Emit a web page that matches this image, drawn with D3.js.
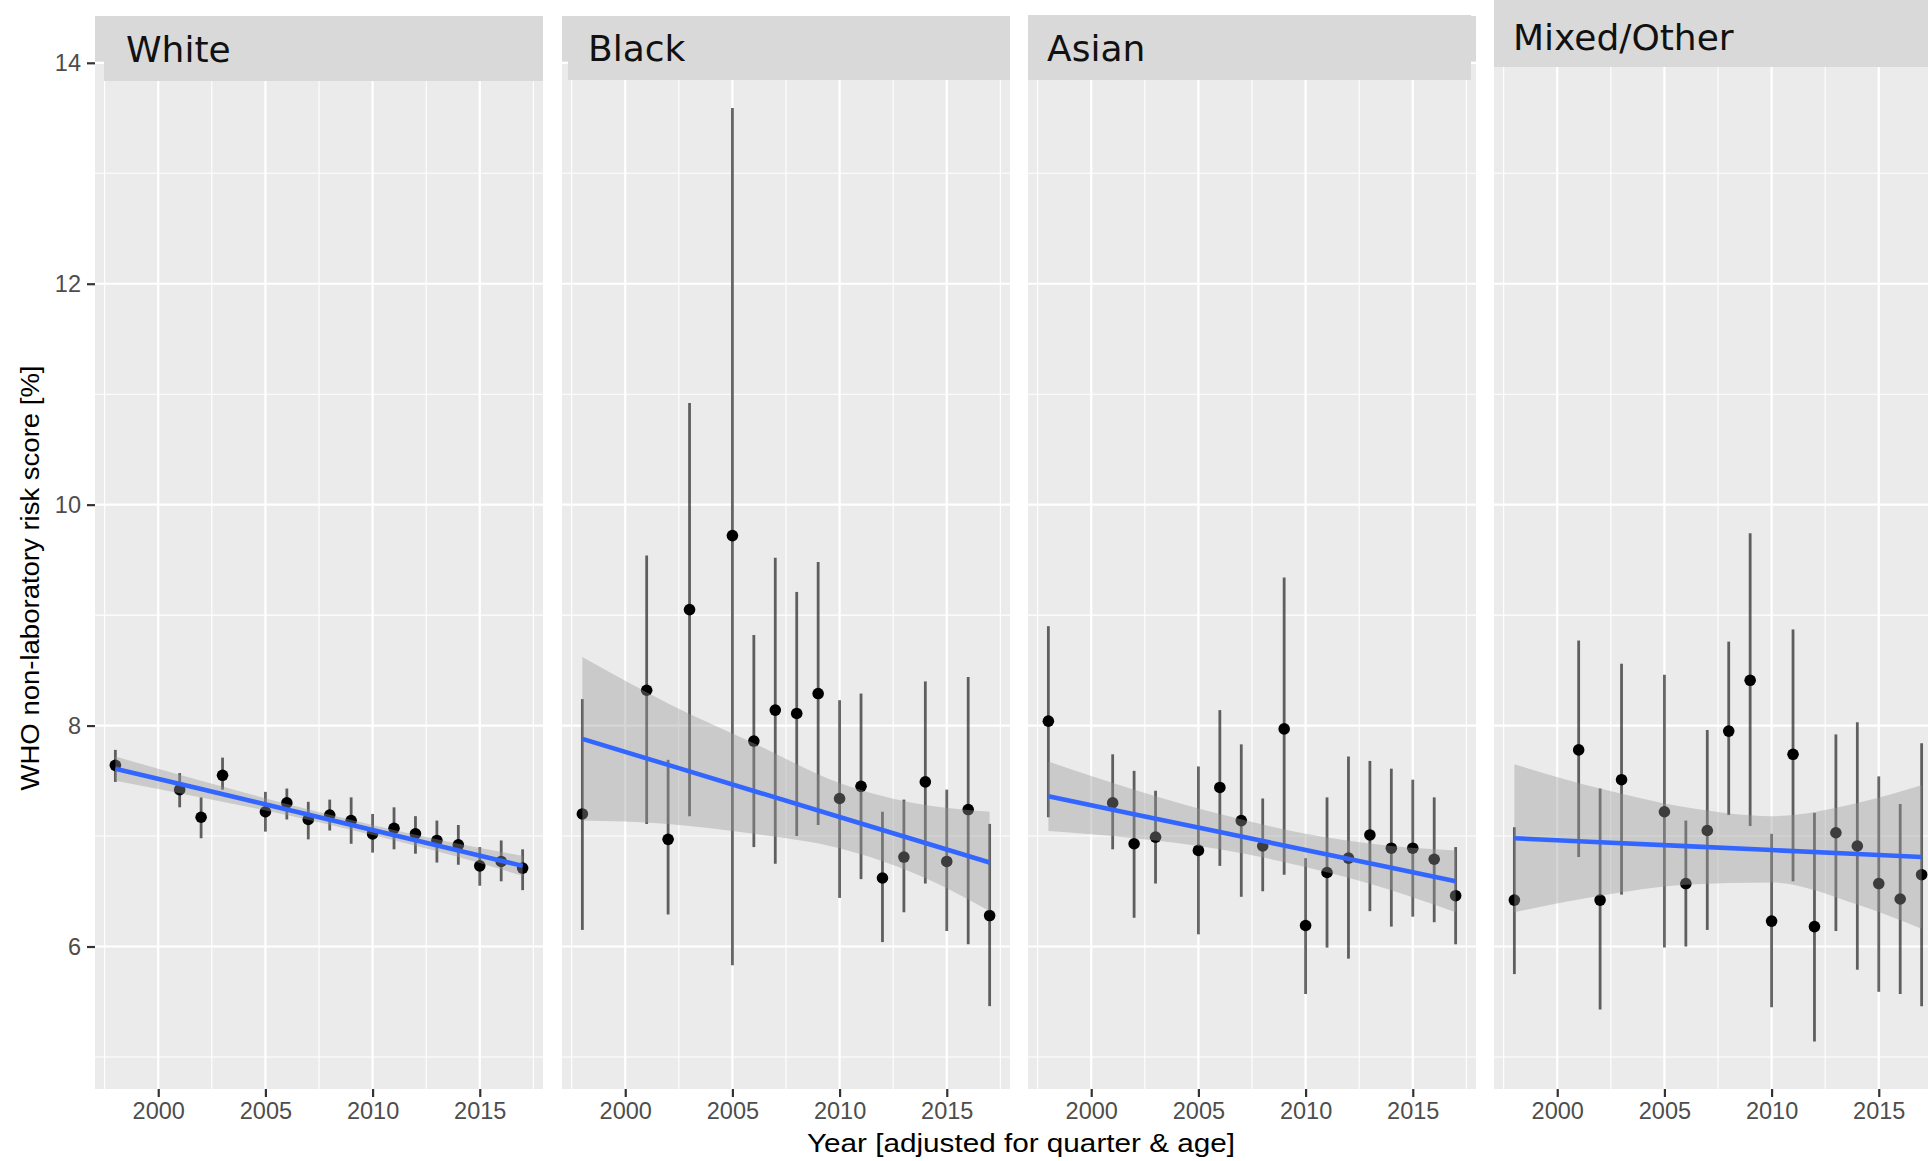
<!DOCTYPE html>
<html>
<head>
<meta charset="utf-8">
<script src="https://cdn.jsdelivr.net/npm/d3@7"></script>
<style>
	body { margin: 0; background: #fff; }
	svg { display: block; }
</style>
</head>
<body>
<div id="chart"></div>
<script>
// years present in every facet (1999, 2000 and 2004 are missing)
const years = [1998, 2001, 2002, 2003, 2005, 2006, 2007, 2008, 2009, 2010, 2011, 2012, 2013, 2014, 2015, 2016, 2017];
const groups = ["White", "Black", "Asian", "Mixed/Other"];

const whiteMean = [7.64, 7.42, 7.17, 7.55, 7.22, 7.30, 7.15, 7.19, 7.14, 7.02, 7.07, 7.02, 6.96, 6.92, 6.73, 6.77, 6.71];
const whiteLow = [7.49, 7.26, 6.98, 7.42, 7.04, 7.15, 6.97, 7.05, 6.93, 6.85, 6.88, 6.84, 6.76, 6.74, 6.55, 6.59, 6.51];
const whiteHigh = [7.78, 7.57, 7.35, 7.71, 7.40, 7.43, 7.31, 7.33, 7.35, 7.20, 7.26, 7.18, 7.14, 7.10, 6.90, 6.96, 6.88];

const blackMean = [7.20, 8.32, 6.97, 9.05, 9.72, 7.86, 8.14, 8.11, 8.29, 7.34, 7.45, 6.62, 6.81, 7.49, 6.77, 7.24, 6.28];
const blackLow = [6.15, 7.11, 6.29, 7.18, 5.83, 6.90, 6.75, 7.00, 7.10, 6.44, 6.61, 6.04, 6.31, 6.57, 6.14, 6.02, 5.46];
const blackHigh = [8.24, 9.54, 7.69, 10.92, 13.59, 8.82, 9.52, 9.21, 9.48, 8.23, 8.29, 7.22, 7.33, 8.40, 7.42, 8.44, 7.11];

const asianMean = [8.04, 7.30, 6.93, 6.99, 6.87, 7.44, 7.14, 6.91, 7.97, 6.19, 6.67, 6.80, 7.01, 6.89, 6.89, 6.79, 6.46];
const asianLow = [7.17, 6.88, 6.26, 6.57, 6.11, 6.73, 6.45, 6.50, 6.65, 5.57, 5.99, 5.89, 6.32, 6.18, 6.27, 6.22, 6.02];
const asianHigh = [8.90, 7.74, 7.59, 7.41, 7.63, 8.14, 7.83, 7.34, 9.34, 6.80, 7.35, 7.72, 7.68, 7.61, 7.51, 7.35, 6.90];

const mixedMean = [6.42, 7.78, 6.42, 7.51, 7.22, 6.57, 7.05, 7.95, 8.41, 6.23, 7.74, 6.18, 7.03, 6.91, 6.57, 6.43, 6.65];
const mixedLow = [5.75, 6.81, 5.43, 6.47, 5.99, 6.00, 6.15, 7.19, 7.09, 5.45, 6.59, 5.14, 6.14, 5.79, 5.59, 5.57, 5.46];
const mixedHigh = [7.08, 8.77, 7.43, 8.56, 8.46, 7.14, 7.96, 8.76, 9.74, 7.02, 8.87, 7.21, 7.92, 8.03, 7.54, 7.29, 7.84];

// linear fit and its confidence band, read at a few years
const fitYears = [1998, 2002, 2006, 2010, 2014, 2017];
const whiteFit = [7.61, 7.425, 7.24, 7.055, 6.87, 6.73];
const whiteFitLow = [7.50, 7.35, 7.19, 7.01, 6.81, 6.64];
const whiteFitHigh = [7.72, 7.50, 7.29, 7.10, 6.93, 6.82];
const blackFit = [7.88, 7.644, 7.408, 7.173, 6.937, 6.76];
const blackFitLow = [7.14, 7.11, 7.02, 6.89, 6.62, 6.32];
const blackFitHigh = [8.62, 8.20, 7.84, 7.48, 7.28, 7.22];
const asianFit = [7.36, 7.198, 7.036, 6.874, 6.712, 6.59];
const asianFitLow = [7.045, 6.98, 6.88, 6.72, 6.51, 6.31];
const asianFitHigh = [7.675, 7.42, 7.20, 7.02, 6.91, 6.87];
const mixedFit = [6.98, 6.944, 6.909, 6.873, 6.838, 6.81];
const mixedFitLow = [6.31, 6.46, 6.56, 6.58, 6.38, 6.16];
const mixedFitHigh = [7.65, 7.43, 7.26, 7.18, 7.30, 7.46];

const yTicks = [6, 8, 10, 12, 14];
const yMinor = [5, 7, 9, 11, 13];
const xTicks = [2000, 2005, 2010, 2015];
const xMinor = [1997.5, 2002.5, 2007.5, 2012.5, 2017.5];

const facets = [
	{ mean: whiteMean, low: whiteLow, high: whiteHigh, fit: whiteFit, fitLow: whiteFitLow, fitHigh: whiteFitHigh },
	{ mean: blackMean, low: blackLow, high: blackHigh, fit: blackFit, fitLow: blackFitLow, fitHigh: blackFitHigh },
	{ mean: asianMean, low: asianLow, high: asianHigh, fit: asianFit, fitLow: asianFitLow, fitHigh: asianFitHigh },
	{ mean: mixedMean, low: mixedLow, high: mixedHigh, fit: mixedFit, fitLow: mixedFitLow, fitHigh: mixedFitHigh },
];

// layout (the strips were pasted by hand in the original, so they are a bit off)
const width = 1928;
const height = 1161;
const panelLeft = [95, 562, 1028, 1494];
const panelW = 448;
const panelTop = 61.7;
const panelBottom = 1089;
const labelBoxes = [
	{ x0: 104, x1: 543, y0: 16, y1: 81, tx: 126, ty: 62 },
	{ x0: 568, x1: 1010, y0: 16, y1: 80, tx: 588, ty: 61 },
	{ x0: 1028, x1: 1471, y0: 15, y1: 80, tx: 1047, ty: 61 },
	{ x0: 1494, x1: 1928, y0: 0, y1: 67, tx: 1513, ty: 50 },
];

const svg = d3
	.select("#chart")
	.append("svg")
	.attr("width", width)
	.attr("height", height);

const y = d3.scaleLinear().domain([4.71, 14.01]).range([panelBottom, panelTop]);

svg
	.append("defs")
	.selectAll("clipPath")
	.data(groups)
	.enter()
	.append("clipPath")
	.attr("id", (d, i) => "clip" + i)
	.append("rect")
	.attr("x", (d, i) => panelLeft[i])
	.attr("y", panelTop)
	.attr("width", panelW)
	.attr("height", panelBottom - panelTop);

groups.forEach((name, i) => {
	const f = facets[i];
	const x = d3
		.scaleLinear()
		.domain([1997.05, 2017.95])
		.range([panelLeft[i], panelLeft[i] + panelW]);

	const g = svg.append("g");
	// ggplot strip sits above the panel
	g.append("rect")
		.attr("x", panelLeft[i])
		.attr("y", 16)
		.attr("width", panelW)
		.attr("height", panelTop - 16)
		.attr("fill", "#d9d9d9");

	const p = g.append("g").attr("clip-path", `url(#clip${i})`);
	p.append("rect")
		.attr("x", panelLeft[i])
		.attr("y", panelTop)
		.attr("width", panelW)
		.attr("height", panelBottom - panelTop)
		.attr("fill", "#ebebeb");

	// grid
	p.selectAll(".ymin")
		.data(yMinor)
		.enter()
		.append("line")
		.attr("x1", panelLeft[i])
		.attr("x2", panelLeft[i] + panelW)
		.attr("y1", (d) => y(d))
		.attr("y2", (d) => y(d))
		.attr("stroke", "#fff")
		.attr("stroke-width", 1.1);
	p.selectAll(".xmin")
		.data(xMinor)
		.enter()
		.append("line")
		.attr("x1", (d) => x(d))
		.attr("x2", (d) => x(d))
		.attr("y1", panelTop)
		.attr("y2", panelBottom)
		.attr("stroke", "#fff")
		.attr("stroke-width", 1.1);
	p.selectAll(".ymaj")
		.data(yTicks)
		.enter()
		.append("line")
		.attr("x1", panelLeft[i])
		.attr("x2", panelLeft[i] + panelW)
		.attr("y1", (d) => y(d))
		.attr("y2", (d) => y(d))
		.attr("stroke", "#fff")
		.attr("stroke-width", 2.2);
	p.selectAll(".xmaj")
		.data(xTicks)
		.enter()
		.append("line")
		.attr("x1", (d) => x(d))
		.attr("x2", (d) => x(d))
		.attr("y1", panelTop)
		.attr("y2", panelBottom)
		.attr("stroke", "#fff")
		.attr("stroke-width", 2.2);

	const pts = years.map((yr, k) => ({ yr, m: f.mean[k], lo: f.low[k], hi: f.high[k] }));

	p.selectAll(".err")
		.data(pts)
		.enter()
		.append("line")
		.attr("x1", (d) => x(d.yr))
		.attr("x2", (d) => x(d.yr))
		.attr("y1", (d) => y(d.lo))
		.attr("y2", (d) => y(d.hi))
		.attr("stroke", "#000")
		.attr("stroke-opacity", 0.6)
		.attr("stroke-width", 2.8);

	p.selectAll(".pt")
		.data(pts)
		.enter()
		.append("circle")
		.attr("cx", (d) => x(d.yr))
		.attr("cy", (d) => y(d.m))
		.attr("r", 5.8)
		.attr("fill", "#000");

	const band = fitYears.map((yr, k) => ({ yr, fit: f.fit[k], lo: f.fitLow[k], hi: f.fitHigh[k] }));
	p.append("path")
		.datum(band)
		.attr("fill", "#999999")
		.attr("fill-opacity", 0.4)
		.attr(
			"d",
			d3
				.area()
				.curve(d3.curveMonotoneX)
				.x((d) => x(d.yr))
				.y0((d) => y(d.lo))
				.y1((d) => y(d.hi))
		);
	p.append("path")
		.datum(band)
		.attr("fill", "none")
		.attr("stroke", "#3366FF")
		.attr("stroke-width", 4.6)
		.attr(
			"d",
			d3
				.line()
				.x((d) => x(d.yr))
				.y((d) => y(d.fit))
		);

	// x axis for this facet
	const xAxis = g
		.append("g")
		.attr("transform", `translate(0,${panelBottom})`)
		.call(d3.axisBottom(x).tickValues(xTicks).tickSize(8).tickPadding(5).tickFormat(d3.format("d")));
	xAxis.select(".domain").remove();
	xAxis.selectAll("line").attr("stroke", "#333").attr("stroke-width", 2.2);
	xAxis
		.selectAll("text")
		.attr("fill", "#4d4d4d")
		.style("font-family", "'Liberation Sans', Arial, sans-serif")
		.style("font-size", "23.5px");

	// pasted label box
	const b = labelBoxes[i];
	g.append("rect")
		.attr("x", b.x0)
		.attr("y", b.y0)
		.attr("width", b.x1 - b.x0)
		.attr("height", b.y1 - b.y0)
		.attr("fill", "#d9d9d9");
	g.append("text")
		.attr("x", b.tx)
		.attr("y", b.ty)
		.text(name)
		.attr("fill", "#111")
		.style("font-family", "'DejaVu Sans', sans-serif")
		.style("font-size", "36px");
});

// y axis only on the first facet
const yAxis = svg
	.append("g")
	.attr("transform", `translate(${panelLeft[0]},0)`)
	.call(d3.axisLeft(y).tickValues(yTicks).tickSize(8).tickPadding(6));
yAxis.select(".domain").remove();
yAxis.selectAll("line").attr("stroke", "#333").attr("stroke-width", 2.2);
yAxis
	.selectAll("text")
	.attr("fill", "#4d4d4d")
	.style("font-family", "'Liberation Sans', Arial, sans-serif")
	.style("font-size", "23.5px");

svg
	.append("text")
	.attr("transform", "translate(39,578) rotate(-90)")
	.attr("text-anchor", "middle")
	.attr("textLength", 425)
	.attr("lengthAdjust", "spacingAndGlyphs")
	.attr("fill", "#000")
	.style("font-family", "'Liberation Sans', Arial, sans-serif")
	.style("font-size", "25px")
	.text("WHO non-laboratory risk score [%]");

svg
	.append("text")
	.attr("x", 1021)
	.attr("y", 1152)
	.attr("text-anchor", "middle")
	.attr("textLength", 428)
	.attr("lengthAdjust", "spacingAndGlyphs")
	.attr("fill", "#000")
	.style("font-family", "'Liberation Sans', Arial, sans-serif")
	.style("font-size", "25px")
	.text("Year [adjusted for quarter & age]");
</script>
</body>
</html>
